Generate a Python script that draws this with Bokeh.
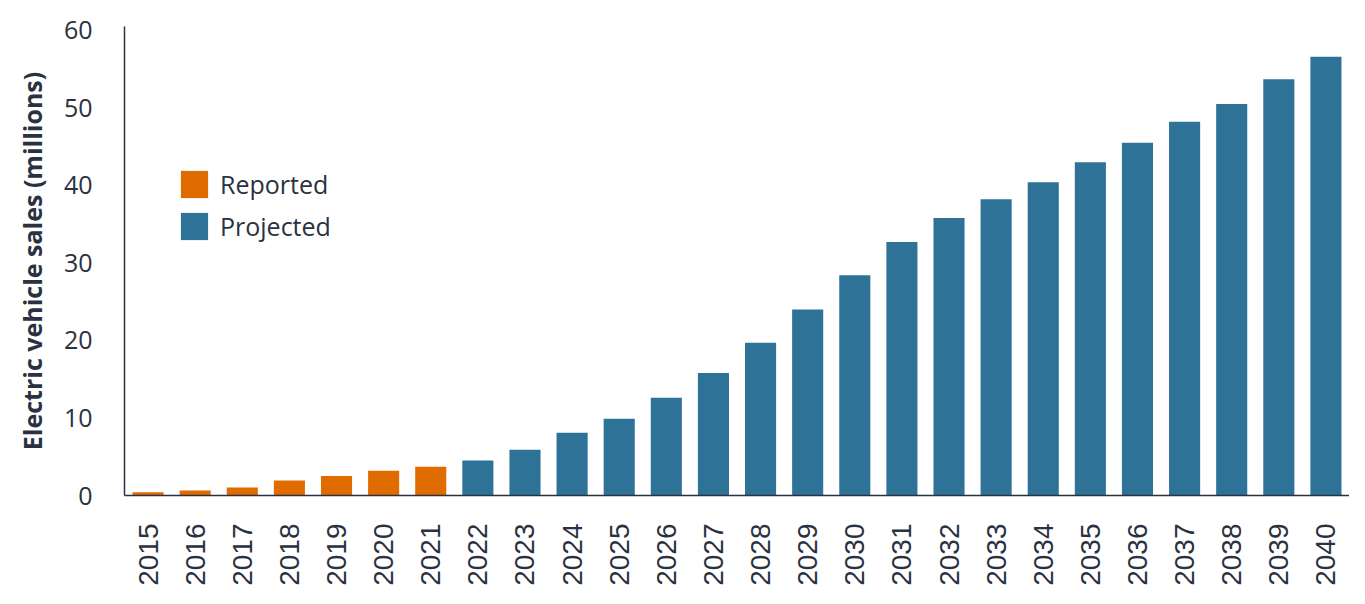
import math
from bokeh.plotting import figure
from bokeh.models import ColumnDataSource, FactorRange, Range1d, FixedTicker, Legend, LegendItem
from bokeh.embed import file_html
from bokeh.resources import INLINE

years = ["2015", "2016", "2017", "2018", "2019", "2020", "2021", "2022", "2023",
         "2024", "2025", "2026", "2027", "2028", "2029", "2030", "2031", "2032",
         "2033", "2034", "2035", "2036", "2037", "2038", "2039", "2040"]
reported_years = ["2015", "2016", "2017", "2018", "2019", "2020", "2021"]
reported = [0.42, 0.64, 1.03, 1.93, 2.5, 3.2, 3.7]
projected_years = ["2022", "2023", "2024", "2025", "2026", "2027", "2028", "2029",
                   "2030", "2031", "2032", "2033", "2034", "2035", "2036", "2037",
                   "2038", "2039", "2040"]
projected = [4.5, 5.9, 8.1, 9.9, 12.6, 15.8, 19.7, 24.0, 28.4, 32.7, 35.8, 38.2,
             40.4, 43.0, 45.5, 48.2, 50.5, 53.7, 56.6]
y_ticks = [0, 10, 20, 30, 40, 50, 60]

ORANGE = "#E06C00"
BLUE = "#2E7397"
TEXT = "#2A3140"

p = figure(width=1349, height=588, output_backend="svg", toolbar_location=None,
           x_range=FactorRange(factors=years, range_padding=0),
           y_range=Range1d(0, 60.5),
           min_border_left=124, min_border_right=0, min_border_top=26, min_border_bottom=91)
p.outline_line_color = None
p.xgrid.grid_line_color = None
p.ygrid.grid_line_color = None

src_r = ColumnDataSource(dict(x=reported_years, top=reported))
src_p = ColumnDataSource(dict(x=projected_years, top=projected))
r1 = p.vbar(x="x", top="top", width=0.66, source=src_r, fill_color=ORANGE, line_color=None)
r2 = p.vbar(x="x", top="top", width=0.66, source=src_p, fill_color=BLUE, line_color=None)

# y axis
p.yaxis.ticker = FixedTicker(ticks=y_ticks)
p.yaxis.major_tick_line_color = None
p.yaxis.minor_tick_line_color = None
p.yaxis.major_label_standoff = 26
p.yaxis.major_label_text_font = "Open Sans"
p.yaxis.major_label_text_font_size = "25px"
p.yaxis.major_label_text_color = TEXT
p.yaxis.axis_line_color = TEXT
p.yaxis.axis_line_width = 1.5
p.yaxis.axis_label = "Electric vehicle sales (millions)"
p.yaxis.axis_label_text_font = "Open Sans"
p.yaxis.axis_label_text_font_style = "bold"
p.yaxis.axis_label_text_font_size = "25px"
p.yaxis.axis_label_text_color = TEXT
p.yaxis.axis_label_standoff = 12

# x axis
p.xaxis.major_tick_line_color = None
p.xaxis.minor_tick_line_color = None
p.xaxis.major_label_orientation = math.pi / 2
p.xaxis.major_label_standoff = 22
p.xaxis.major_label_text_font = "Liberation Sans"
p.xaxis.major_label_text_font_size = "28px"
p.xaxis.major_label_text_color = TEXT
p.xaxis.axis_line_color = TEXT
p.xaxis.axis_line_width = 1.5

legend = Legend(items=[LegendItem(label="Reported", renderers=[r1]),
                       LegendItem(label="Projected", renderers=[r2])],
                location=(53, 252), orientation="vertical",
                glyph_width=34, glyph_height=34, label_standoff=9,
                spacing=8, padding=0, margin=0,
                label_text_font="Open Sans", label_text_font_size="25px",
                label_text_color=TEXT, label_height=34,
                border_line_color=None, background_fill_alpha=0)
p.add_layout(legend, "center")

open("out.html", "w").write(file_html(p, INLINE))
